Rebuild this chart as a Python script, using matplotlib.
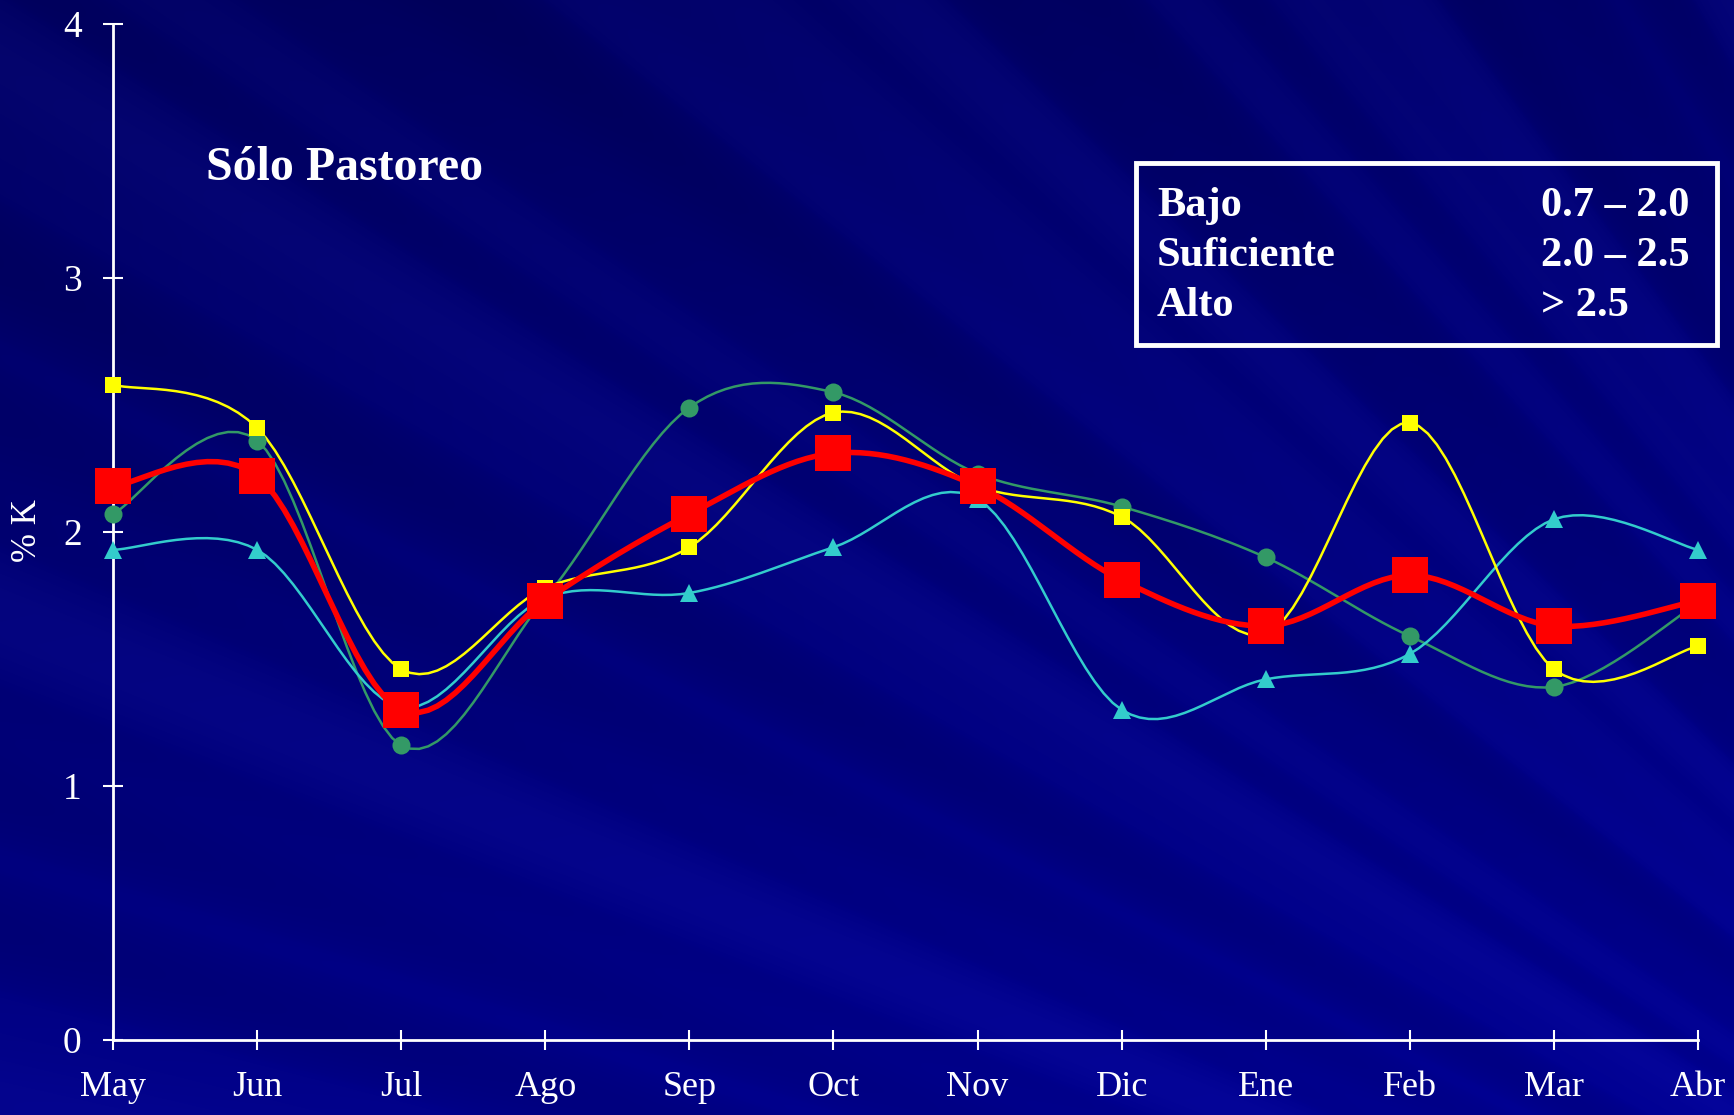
import numpy as np
import matplotlib
matplotlib.use("Agg")
import matplotlib.pyplot as plt
from matplotlib.patches import Rectangle

# ---------------- data ----------------
months = ["May", "Jun", "Jul", "Ago", "Sep", "Oct", "Nov", "Dic", "Ene", "Feb", "Mar", "Abr"]
serie_amarilla = [2.58, 2.41, 1.46, 1.78, 1.94, 2.47, 2.18, 2.06, 1.60, 2.43, 1.46, 1.55]
serie_verde = [2.07, 2.36, 1.16, 1.74, 2.49, 2.55, 2.23, 2.10, 1.90, 1.59, 1.39, 1.72]
serie_cian = [1.93, 1.93, 1.31, 1.74, 1.76, 1.94, 2.13, 1.30, 1.42, 1.52, 2.05, 1.93]
serie_promedio = [2.18, 2.22, 1.30, 1.73, 2.07, 2.31, 2.18, 1.81, 1.63, 1.83, 1.63, 1.73]
yticks = [0, 1, 2, 3, 4]
titulo = "Sólo Pastoreo"
ylabel = "% K"
tabla_niveles = ["Bajo", "Suficiente", "Alto"]
tabla_rangos = ["0.7 – 2.0", "2.0 – 2.5", "> 2.5"]

W, H = 1734, 1115
DPI = 100
FONT = "Liberation Serif"


def excel_smooth(xs, ys, n=16):
    """Bezier smoothing similar to spreadsheet 'smoothed line'."""
    xs = np.asarray(xs, float)
    ys = np.asarray(ys, float)
    P = np.column_stack([xs, ys])
    out = [P[0]]
    m = len(P)
    t = np.linspace(0, 1, n + 1)[1:]
    for i in range(m - 1):
        p0 = P[i - 1] if i > 0 else P[i]
        p1 = P[i]
        p2 = P[i + 1]
        p3 = P[i + 2] if i + 2 < m else P[i + 1]
        c1 = p1 + (p2 - p0) / 6.0
        c2 = p2 - (p3 - p1) / 6.0
        for tt in t:
            b = ((1 - tt) ** 3) * p1 + 3 * ((1 - tt) ** 2) * tt * c1 + 3 * (1 - tt) * tt ** 2 * c2 + tt ** 3 * p2
            out.append(b)
    out = np.array(out)
    return out[:, 0], out[:, 1]


fig = plt.figure(figsize=(W / DPI, H / DPI), dpi=DPI)
fig.patch.set_facecolor("#000080")

# ---------------- background (decorative) ----------------
bg = fig.add_axes([0, 0, 1, 1])
bg.set_axis_off()
yy, xx = np.mgrid[0:H, 0:W].astype(float)
fx, fy = 2700.0, 1700.0
ang = np.arctan2(fy - yy, fx - xx)
pattern = (0.5 * np.sin(ang * 37.0) + 0.35 * np.sin(ang * 83.0 + 1.3) + 0.25 * np.sin(ang * 151.0 + 0.4))
pattern = np.sign(pattern) * np.abs(pattern) ** 0.6
pattern = np.clip(pattern, -1, 1)
blue = 0.38 + 0.14 * (yy / H) + 0.05 * (xx / W) + 0.04 * pattern
red = np.clip(0.018 * pattern, 0, 1)
img = np.dstack([red, red, np.clip(blue, 0, 1)])
bg.imshow(img, extent=[0, 1, 0, 1], aspect="auto", origin="upper", zorder=0)
bg.set_xlim(0, 1)
bg.set_ylim(0, 1)

# ---------------- main axes ----------------
x0, x1 = 113 / W, 1698 / W
y0, y1 = 1 - 1040 / H, 1 - 24 / H
ax = fig.add_axes([x0, y0, x1 - x0, y1 - y0])
ax.patch.set_alpha(0)

x = np.arange(len(months))

series = [
    (serie_verde, "#339966", "o", 13, 1.8),
    (serie_cian, "#33CCCC", "^", 13, 1.8),
    (serie_amarilla, "#FFFF00", "s", 12, 1.8),
]
for vals, col, mk, ms, lw in series:
    sx, sy = excel_smooth(x, vals)
    ax.plot(sx, sy, color=col, lw=lw, clip_on=False, zorder=3)
    ax.plot(x, vals, linestyle="none", marker=mk, color=col, markersize=ms,
            markeredgewidth=0, clip_on=False, zorder=4)

sx, sy = excel_smooth(x, serie_promedio)
ax.plot(sx, sy, color="#FF0000", lw=4.0, clip_on=False, zorder=5)
ax.plot(x, serie_promedio, linestyle="none", marker="s", color="#FF0000",
        markersize=26.5, markeredgewidth=0, clip_on=False, zorder=6)

ax.set_xlim(0, 11)
ax.set_ylim(0, 4)
ax.set_xticks(x)
ax.set_xticklabels(months, fontsize=26, family=FONT, color="white")
ax.set_yticks(yticks)
ax.set_yticklabels([str(v) for v in yticks], fontsize=27, family=FONT, color="white")
ax.tick_params(axis="x", direction="inout", length=15, width=1.5, colors="white", pad=15)
ax.tick_params(axis="y", direction="inout", length=15, width=1.5, colors="white", pad=15)
for s in ["top", "right"]:
    ax.spines[s].set_visible(False)
for s in ["left", "bottom"]:
    ax.spines[s].set_color("white")
    ax.spines[s].set_linewidth(2.0)

# y label
fig.text(28 / W, 1 - 531 / H, ylabel, rotation=90, ha="center", va="center",
         fontsize=25, family=FONT, color="white")

# title
fig.text(206 / W, 1 - 168 / H, titulo, ha="left", va="center", fontsize=34.5,
         family=FONT, weight="bold", color="white")

# legend table box
bx0, bx1 = 1136 / W, 1717 / W
by_top, by_bot = 1 - 163 / H, 1 - 345 / H
fig.patches.append(Rectangle((bx0, by_bot), bx1 - bx0, by_top - by_bot,
                             transform=fig.transFigure, facecolor="none",
                             edgecolor="white", linewidth=3.5, zorder=10))
rows_y = [206, 256, 306]
for lab, rng, yp in zip(tabla_niveles, tabla_rangos, rows_y):
    fig.text(1157 / W, 1 - yp / H, lab, ha="left", va="center", fontsize=30.5,
             family=FONT, weight="bold", color="white")
    fig.text(1541 / W, 1 - yp / H, rng, ha="left", va="center", fontsize=30.5,
             family=FONT, weight="bold", color="white")

fig.savefig("out.png", dpi=DPI, facecolor=fig.get_facecolor())
